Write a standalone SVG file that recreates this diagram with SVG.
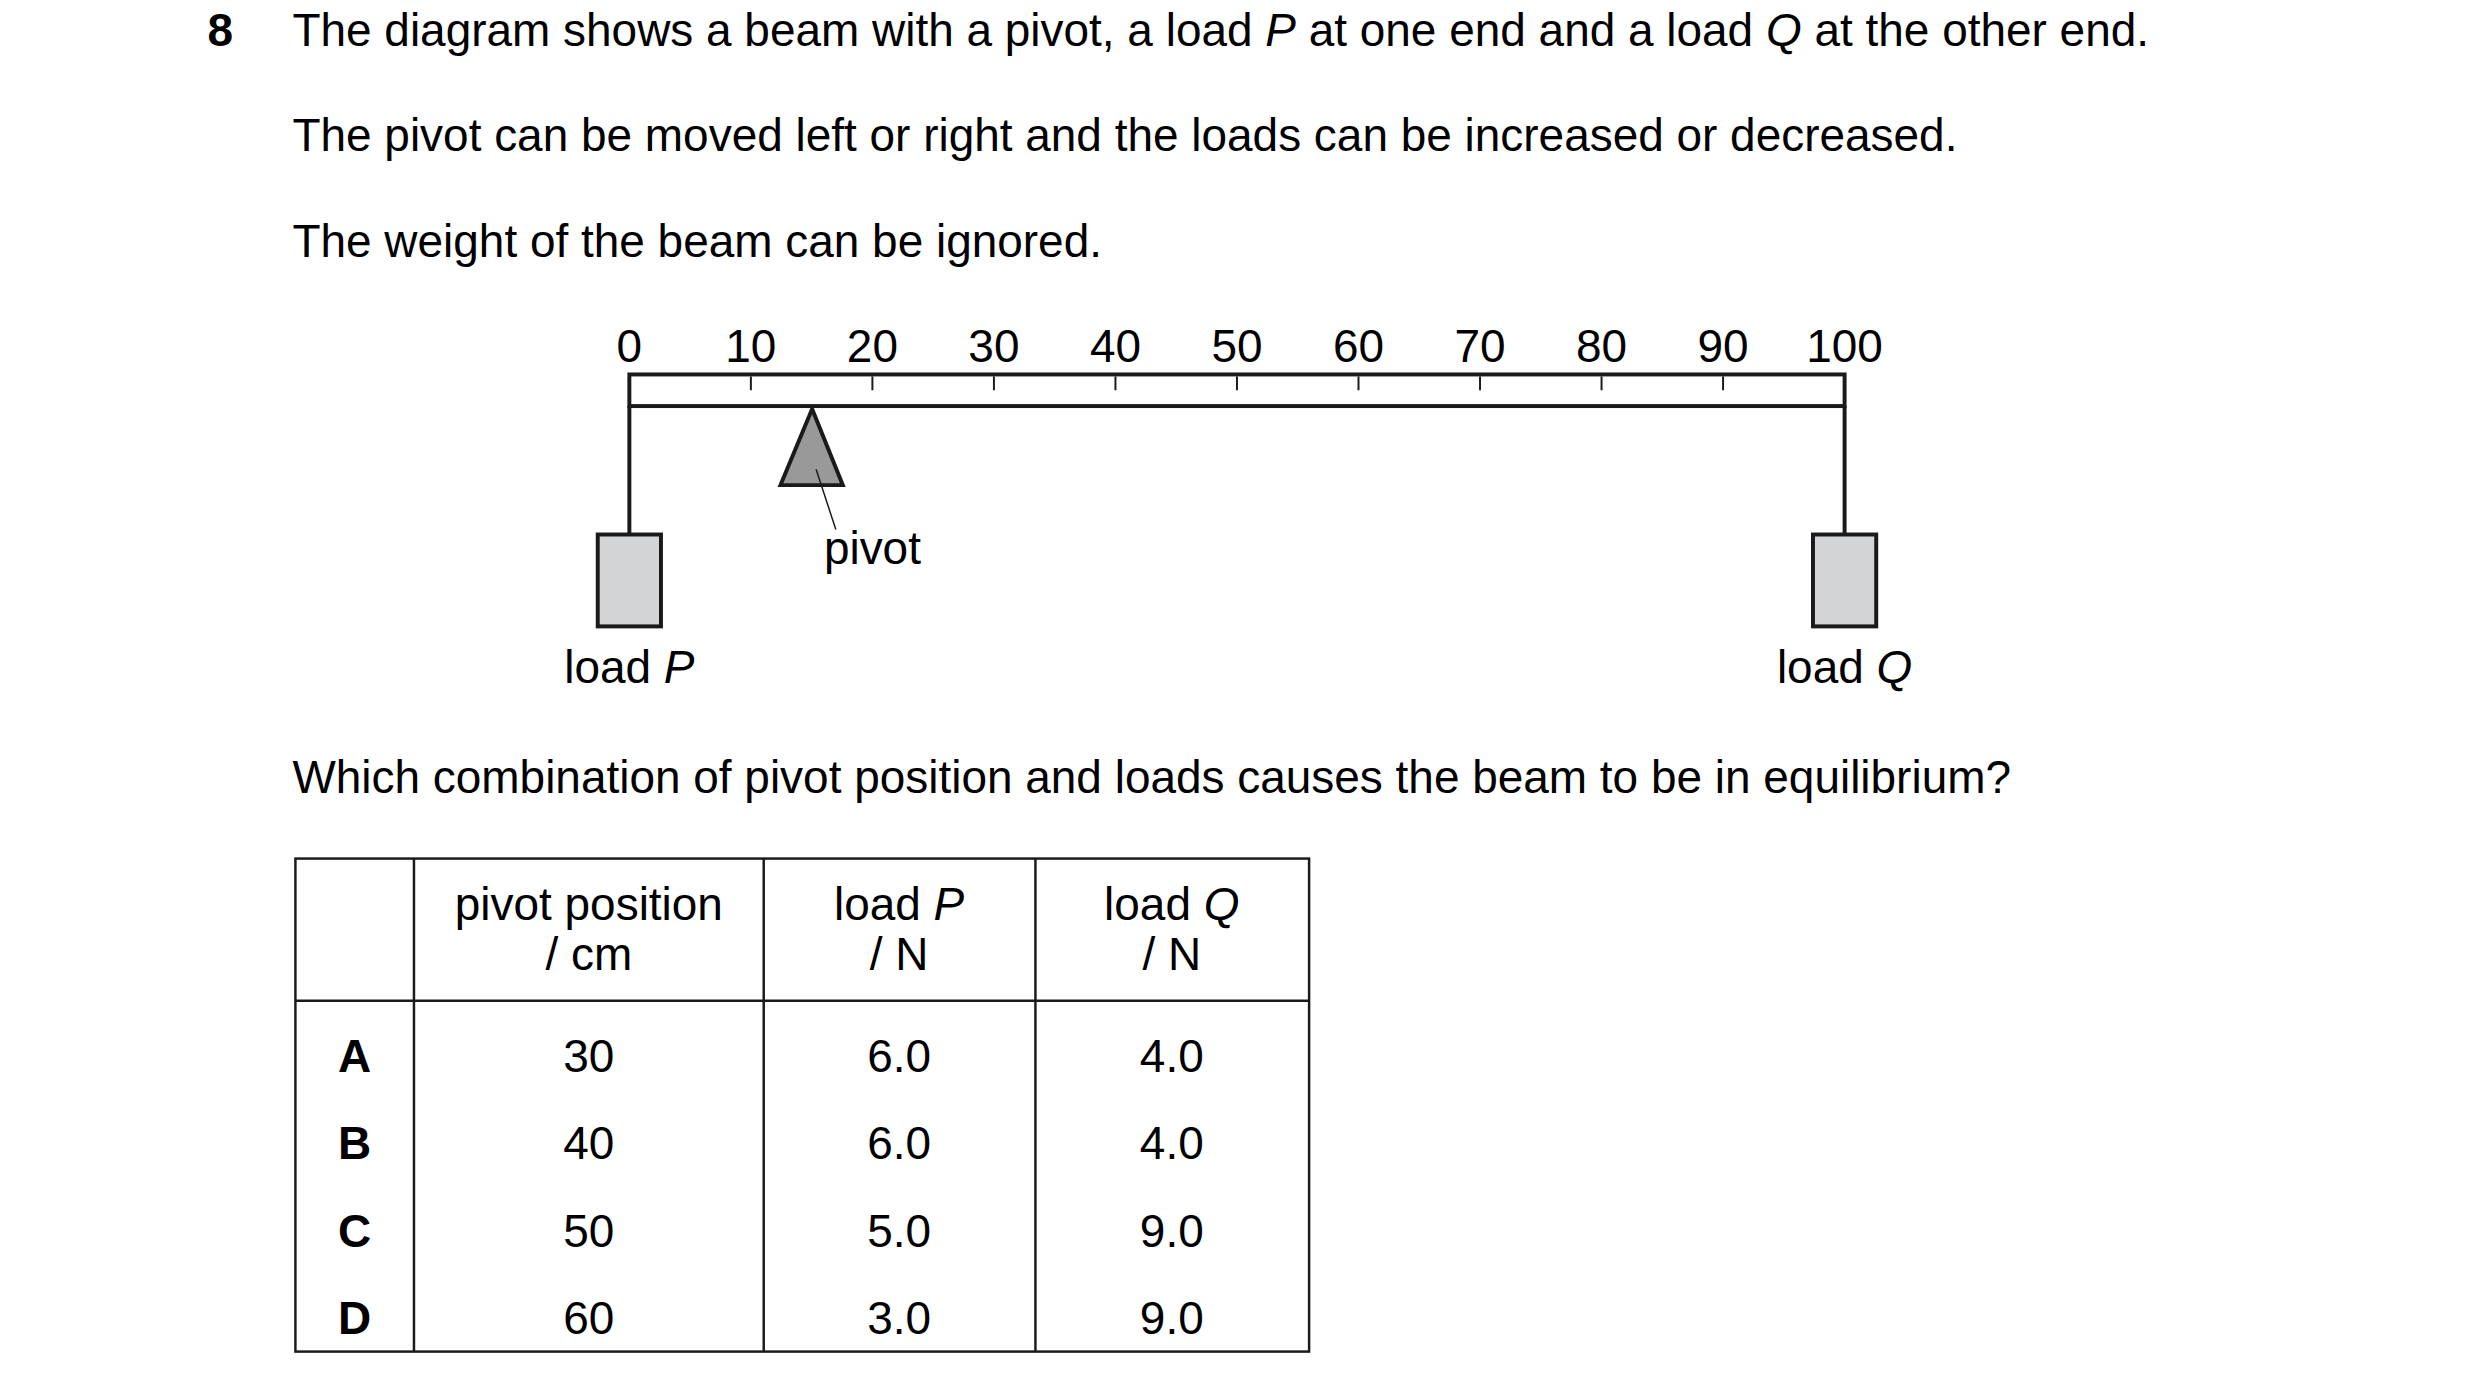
<svg xmlns="http://www.w3.org/2000/svg" width="2480" height="1394" viewBox="0 0 2480 1394">
<style>
text{font-family:"Liberation Sans",Arial,sans-serif;font-size:46.5px;fill:#000}
.c{text-anchor:middle}
.b{font-weight:bold}
.ln{stroke:#1a1a1a;stroke-width:4;fill:none}
.tk{stroke:#1a1a1a;stroke-width:2}
.tb{stroke:#1a1a1a;stroke-width:2.5;fill:none}
.box{fill:#d3d4d6;stroke:#1a1a1a;stroke-width:4}
</style>
<rect width="2480" height="1394" fill="#fff"/>
<g transform="scale(0.988)">
<g id="question">
<text x="210" y="47" class="b">8</text>
<text x="296" y="47">The diagram shows a beam with a pivot, a load <tspan font-style="italic">P</tspan> at one end and a load <tspan font-style="italic">Q</tspan> at the other end.</text>
<text x="296" y="153">The pivot can be moved left or right and the loads can be increased or decreased.</text>
<text x="296" y="260">The weight of the beam can be ignored.</text>
<text x="296" y="803">Which combination of pivot position and loads causes the beam to be in equilibrium?</text>
</g>
<g id="beam">
<rect x="637" y="379" width="1230" height="32" class="ln"/>
<line x1="760" y1="381" x2="760" y2="395" class="tk"/>
<line x1="883" y1="381" x2="883" y2="395" class="tk"/>
<line x1="1006" y1="381" x2="1006" y2="395" class="tk"/>
<line x1="1129" y1="381" x2="1129" y2="395" class="tk"/>
<line x1="1252" y1="381" x2="1252" y2="395" class="tk"/>
<line x1="1375" y1="381" x2="1375" y2="395" class="tk"/>
<line x1="1498" y1="381" x2="1498" y2="395" class="tk"/>
<line x1="1621" y1="381" x2="1621" y2="395" class="tk"/>
<line x1="1744" y1="381" x2="1744" y2="395" class="tk"/>
<text x="637" y="366" class="c">0</text><text x="760" y="366" class="c">10</text><text x="883" y="366" class="c">20</text><text x="1006" y="366" class="c">30</text><text x="1129" y="366" class="c">40</text><text x="1252" y="366" class="c">50</text><text x="1375" y="366" class="c">60</text><text x="1498" y="366" class="c">70</text><text x="1621" y="366" class="c">80</text><text x="1744" y="366" class="c">90</text><text x="1867" y="366" class="c">100</text>
</g>
<g id="pivot">
<polygon points="822,414 790,491 853,491" fill="#999" stroke="#1a1a1a" stroke-width="4"/>
<line x1="826" y1="475" x2="846" y2="536" stroke="#1a1a1a" stroke-width="1.5"/>
<text x="883" y="571" class="c">pivot</text>
</g>
<g id="loadP">
<line x1="637" y1="411" x2="637" y2="541" class="ln"/>
<rect x="605" y="541" width="64" height="93" class="box"/>
<text x="637" y="691" class="c">load <tspan font-style="italic">P</tspan></text>
</g>
<g id="loadQ">
<line x1="1867" y1="411" x2="1867" y2="541" class="ln"/>
<rect x="1835" y="541" width="64" height="93" class="box"/>
<text x="1867" y="691" class="c">load <tspan font-style="italic">Q</tspan></text>
</g>
<g id="table">
<rect x="299" y="869" width="1026" height="499" class="tb"/>
<line x1="419" y1="869" x2="419" y2="1368" class="tb"/>
<line x1="773" y1="869" x2="773" y2="1368" class="tb"/>
<line x1="1048" y1="869" x2="1048" y2="1368" class="tb"/>
<line x1="299" y1="1013" x2="1325" y2="1013" class="tb"/>
<text x="596" y="931" class="c">pivot position</text><text x="596" y="982" class="c">/ cm</text>
<text x="910" y="931" class="c">load <tspan font-style="italic">P</tspan></text><text x="910" y="982" class="c">/ N</text>
<text x="1186" y="931" class="c">load <tspan font-style="italic">Q</tspan></text><text x="1186" y="982" class="c">/ N</text>
<text x="359" y="1085" class="c b">A</text><text x="596" y="1085" class="c">30</text><text x="910" y="1085" class="c">6.0</text><text x="1186" y="1085" class="c">4.0</text>
<text x="359" y="1173" class="c b">B</text><text x="596" y="1173" class="c">40</text><text x="910" y="1173" class="c">6.0</text><text x="1186" y="1173" class="c">4.0</text>
<text x="359" y="1262" class="c b">C</text><text x="596" y="1262" class="c">50</text><text x="910" y="1262" class="c">5.0</text><text x="1186" y="1262" class="c">9.0</text>
<text x="359" y="1350" class="c b">D</text><text x="596" y="1350" class="c">60</text><text x="910" y="1350" class="c">3.0</text><text x="1186" y="1350" class="c">9.0</text>
</g>
</g>
</svg>
